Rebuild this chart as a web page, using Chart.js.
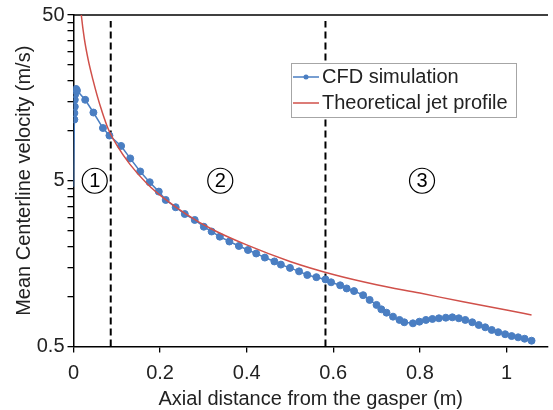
<!DOCTYPE html>
<html>
<head>
<meta charset="utf-8">
<title>Mean centerline velocity</title>
<script src="https://cdn.jsdelivr.net/npm/chart.js@4.4.1/dist/chart.umd.min.js"></script>
<style>
    html, body { margin: 0; padding: 0; background: #fff; }
    #wrap { width: 553px; height: 410px; }
</style>
</head>
<body>
<div id="wrap"><canvas id="velocity-chart" width="553" height="410"></canvas></div>
<script>
"use strict";

// CFD centerline samples (axial distance in m, velocity in m/s)
const cfdX = [0, 0.002, 0.002, 0.003, 0.003, 0.004, 0.005, 0.006, 0.008, 0.027, 0.046, 0.068,
    0.083, 0.110, 0.131, 0.154, 0.176, 0.197, 0.213, 0.236, 0.257, 0.280, 0.301, 0.319,
    0.338, 0.360, 0.382, 0.403, 0.422, 0.442, 0.464, 0.479, 0.500, 0.521, 0.540, 0.561,
    0.582, 0.595, 0.616, 0.631, 0.648, 0.669, 0.684, 0.700, 0.711, 0.723, 0.738, 0.753,
    0.764, 0.784, 0.799, 0.814, 0.829, 0.844, 0.860, 0.875, 0.890, 0.905, 0.921, 0.936,
    0.951, 0.966, 0.981, 0.997, 1.012, 1.027, 1.042, 1.058];
const cfdV = [4.6, 11.7, 12.8, 14.0, 15.4, 16.6, 17.5, 17.9, 17.5, 15.4, 12.9, 10.4,
    9.37, 8.11, 6.82, 5.69, 4.90, 4.30, 3.83, 3.46, 3.15, 2.90, 2.64, 2.47,
    2.30, 2.15, 2.02, 1.91, 1.82, 1.72, 1.63, 1.56, 1.49, 1.42, 1.35, 1.31,
    1.27, 1.22, 1.17, 1.12, 1.08, 1.02, 0.955, 0.891, 0.838, 0.800, 0.757, 0.723,
    0.700, 0.690, 0.706, 0.723, 0.733, 0.740, 0.746, 0.750, 0.740, 0.723, 0.700, 0.674,
    0.653, 0.629, 0.610, 0.593, 0.578, 0.568, 0.557, 0.542];

// Theoretical jet decay curve
const jetX = [0.014, 0.018, 0.025, 0.034, 0.045, 0.055, 0.065, 0.080, 0.100, 0.130, 0.170,
    0.210, 0.260, 0.320, 0.400, 0.500, 0.600, 0.700, 0.800, 0.900, 1.000, 1.058];
const jetV = [65, 50, 36, 26.8, 20.3, 16.2, 13.3, 10.3, 8.2, 6.3, 4.8,
    3.9, 3.15, 2.55, 2.05, 1.63, 1.36, 1.18, 1.05, 0.93, 0.83, 0.775];

// Zone boundaries and zone numbers
const zoneEdges = [0.086, 0.582];
const zoneNames = ['1', '2', '3'];
const zoneNameX = [0.049, 0.339, 0.805];

const xTicks = [0, 0.2, 0.4, 0.6, 0.8, 1];
const yLabels = [0.5, 5, 50];
const yMinor = [1, 1.5, 2, 2.5, 3, 3.5, 4, 4.5, 10, 15, 20, 25, 30, 35, 40, 45];

const FONT = '"Liberation Sans", Arial, sans-serif';
const BLUE = '#4a7ec2';
const RED = '#d0504a';
const INK = '#222';

Chart.defaults.font.family = FONT;
Chart.defaults.color = INK;

function toPoints(xs, ys) {
    return xs.map((x, i) => ({ x: x, y: ys[i] }));
}

// Top frame line (no right border)
const topFrame = {
    id: 'topFrame',
    beforeDatasetsDraw(chart) {
        const a = chart.chartArea;
        const ctx = chart.ctx;
        ctx.save();
        ctx.strokeStyle = '#000';
        ctx.lineWidth = 1.5;
        ctx.beginPath();
        ctx.moveTo(a.left, a.top);
        ctx.lineTo(a.right, a.top);
        ctx.stroke();
        ctx.restore();
    }
};

// Circled zone numbers
const zoneMarks = {
    id: 'zoneMarks',
    afterDatasetsDraw(chart) {
        const ctx = chart.ctx;
        const xs = chart.scales.x, ys = chart.scales.y;
        ctx.save();
        ctx.strokeStyle = '#000';
        ctx.lineWidth = 1.2;
        ctx.fillStyle = '#000';
        ctx.font = '20px ' + FONT;
        ctx.textAlign = 'center';
        ctx.textBaseline = 'middle';
        zoneNames.forEach((name, i) => {
            const cx = xs.getPixelForValue(zoneNameX[i]);
            const cy = ys.getPixelForValue(5);
            ctx.beginPath();
            ctx.arc(cx, cy, 12.5, 0, Math.PI * 2);
            ctx.stroke();
            ctx.fillText(name, cx, cy + 1);
        });
        ctx.restore();
    }
};

// Boxed legend inside the plot
const legendBox = {
    id: 'legendBox',
    afterDatasetsDraw(chart) {
        const ctx = chart.ctx;
        const items = chart.data.datasets.filter(d => d.label);
        const x = 291, y = 63, w = 225, h = 54;
        ctx.save();
        ctx.fillStyle = '#fff';
        ctx.fillRect(x, y, w, h);
        ctx.strokeStyle = '#a6a6a6';
        ctx.lineWidth = 1;
        ctx.strokeRect(x + 0.5, y + 0.5, w, h);
        ctx.font = '20px ' + FONT;
        ctx.textBaseline = 'middle';
        items.forEach((d, i) => {
            const cy = y + 14 + i * 26;
            ctx.strokeStyle = d.borderColor;
            ctx.lineWidth = 1.5;
            ctx.beginPath();
            ctx.moveTo(x + 2, cy);
            ctx.lineTo(x + 28, cy);
            ctx.stroke();
            if (d.pointRadius) {
                ctx.fillStyle = d.borderColor;
                ctx.beginPath();
                ctx.arc(x + 15, cy, 2.5, 0, Math.PI * 2);
                ctx.fill();
            }
            ctx.fillStyle = INK;
            ctx.fillText(d.label, x + 31, cy);
        });
        ctx.restore();
    }
};

const edgeSets = zoneEdges.map(x => ({
    label: '',
    data: [{ x: x, y: 0.5 }, { x: x, y: 46 }],
    borderColor: '#000',
    borderWidth: 2,
    borderDash: [7, 4],
    pointRadius: 0,
    order: 3
}));

const ctx = document.getElementById('velocity-chart').getContext('2d');
const velocityChart = new Chart(ctx, {
    type: 'line',
    data: {
        datasets: [{
            label: 'CFD simulation',
            data: toPoints(cfdX, cfdV),
            borderColor: BLUE,
            backgroundColor: BLUE,
            borderWidth: 1.5,
            pointRadius: c => (c.dataIndex === 0 ? 0 : 3.5),
            pointBorderWidth: 1,
            pointBackgroundColor: BLUE,
            pointBorderColor: BLUE,
            tension: 0,
            order: 1
        }, {
            label: 'Theoretical jet profile',
            data: toPoints(jetX, jetV),
            borderColor: RED,
            borderWidth: 1.5,
            pointRadius: 0,
            cubicInterpolationMode: 'monotone',
            order: 0
        }].concat(edgeSets)
    },
    options: {
        responsive: false,
        animation: false,
        layout: { padding: { top: 15, right: 0, left: 0, bottom: 0 } },
        plugins: {
            legend: { display: false },
            tooltip: { enabled: false }
        },
        scales: {
            x: {
                type: 'linear',
                min: 0,
                max: 1.096,
                afterFit: s => { s.height = 63.5; },
                afterBuildTicks: s => { s.ticks = xTicks.map(v => ({ value: v })); },
                grid: { drawOnChartArea: false, tickLength: 6, color: '#000', lineWidth: 1.3 },
                border: { color: '#000', width: 1.5 },
                ticks: {
                    font: { size: 20 },
                    color: INK,
                    padding: 9,
                    maxRotation: 0,
                    callback: v => String(v)
                },
                title: {
                    display: true,
                    text: 'Axial distance from the gasper (m)',
                    font: { size: 20, lineHeight: 1 },
                    color: INK,
                    padding: { top: 0, bottom: 1 }
                }
            },
            y: {
                type: 'logarithmic',
                min: 0.5,
                max: 50,
                afterFit: s => { s.width = 73.5; },
                afterBuildTicks: s => {
                    s.ticks = yLabels.concat(yMinor).sort((a, b) => a - b).map(v => ({ value: v }));
                },
                grid: { drawOnChartArea: false, tickLength: 6, color: '#000', lineWidth: 1.3 },
                border: { color: '#000', width: 1.5 },
                ticks: {
                    font: { size: 20 },
                    color: INK,
                    padding: 3,
                    autoSkip: false,
                    callback: v => (yLabels.indexOf(v) >= 0 ? String(v) : '')
                },
                title: {
                    display: true,
                    text: 'Mean Centerline velocity (m/s)',
                    font: { size: 20, lineHeight: 1.2 },
                    color: INK,
                    padding: { top: 12, bottom: 0 }
                }
            }
        }
    },
    plugins: [topFrame, zoneMarks, legendBox]
});
</script>
</body>
</html>
